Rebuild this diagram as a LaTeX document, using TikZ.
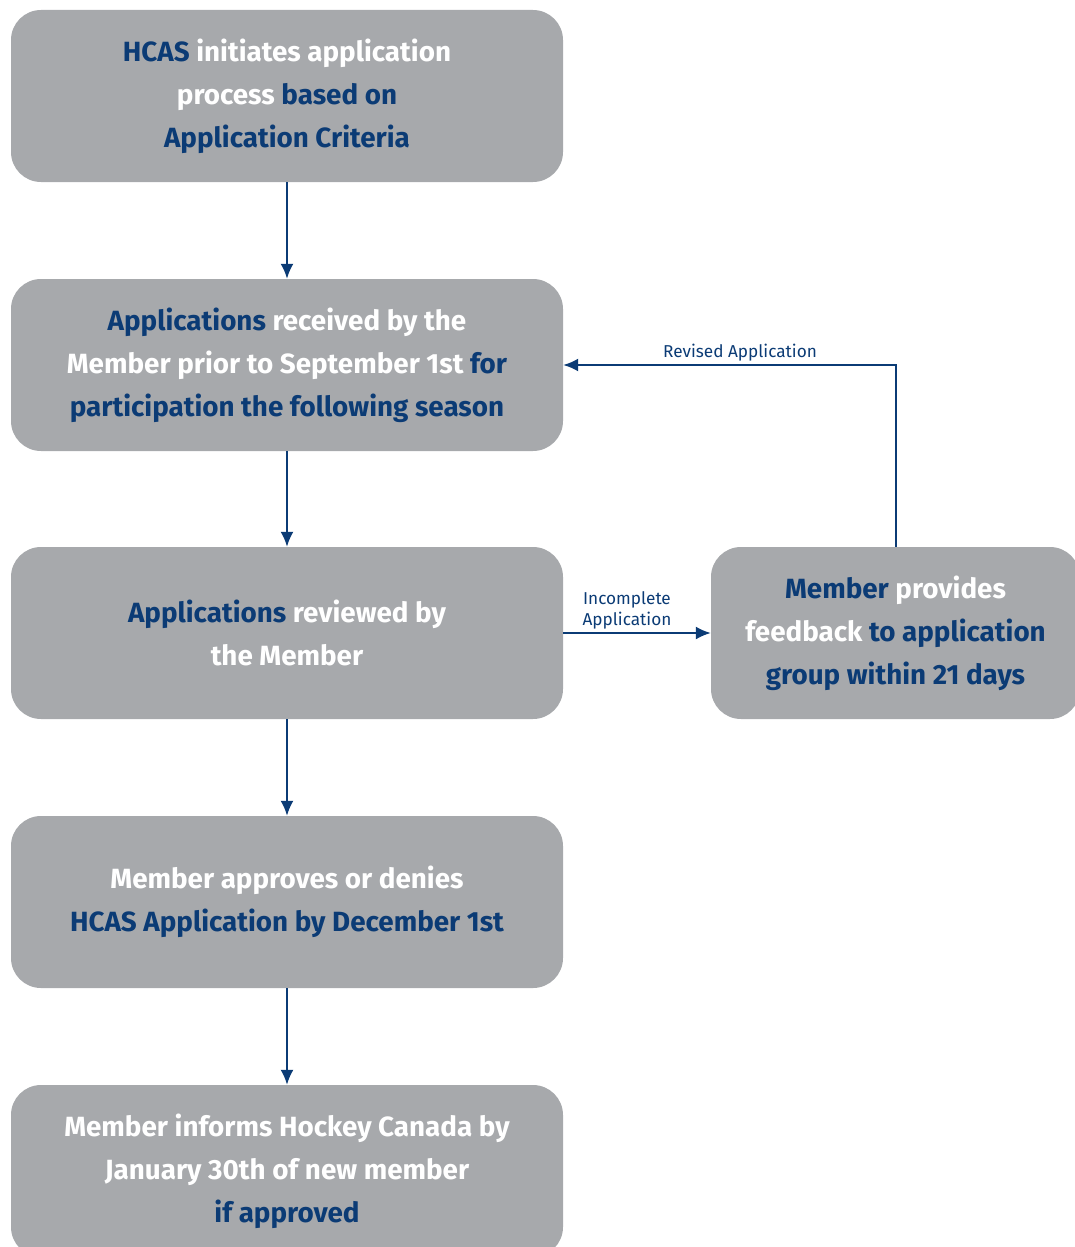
\documentclass[tikz,border=0pt]{standalone}
\usepackage{fontspec}
\setmainfont{Fira Sans}
\usetikzlibrary{arrows.meta}
\definecolor{boxgrey}{HTML}{A7A9AC}
\definecolor{hcblue}{HTML}{0B3B75}
\newcommand{\hb}[1]{\textcolor{hcblue}{#1}}
\tikzset{%
    stepbox/.style={rectangle, rounded corners=30pt, fill=boxgrey, draw=none,
        minimum width=552pt, minimum height=172pt, text=white, align=center,
        font=\fontsize{27.8pt}{43pt}\selectfont\bfseries},
    arr/.style={draw=hcblue, line width=2pt, -{Latex[length=15pt,width=13pt]}},
    lab/.style={text=hcblue, align=center, font=\fontsize{17.2pt}{21pt}\selectfont, inner sep=3pt},
}
\begin{document}
\begin{tikzpicture}[x=1pt,y=-1pt]
    \useasboundingbox (0,0) rectangle (1075,1247);
    \node[stepbox] (init) at (287,96) {\hb{HCAS} initiates application\\process \hb{based on}\\\hb{Application Criteria}};
    \node[stepbox] (recv) at (287,365) {\hb{Applications} received by the\\Member prior to September 1st \hb{for}\\\hb{participation the following season}};
    \node[stepbox] (review) at (287,633) {\hb{Applications} reviewed by\\the Member};
    \node[stepbox] (decide) at (287,902) {Member approves or denies\\\hb{HCAS Application by December 1st}};
    \node[stepbox] (inform) at (287,1171) {Member informs Hockey Canada by\\January 30th of new member\\\hb{if approved}};
    \node[stepbox, minimum width=369pt] (feedback) at (895.5,633) {\hb{Member} provides\\feedback \hb{to application}\\\hb{group within 21 days}};
    % main flow
    \draw[arr] (init) -- (recv);
    \draw[arr] (recv) -- (review);
    \draw[arr] (review) -- (decide);
    \draw[arr] (decide) -- (inform);
    % loop back
    \draw[arr] (review) -- (feedback) node[lab, midway, above, xshift=-10pt]{Incomplete\\Application};
    \draw[arr] (feedback.north) |- (recv.east) node[lab, pos=0.734, above]{Revised Application};
\end{tikzpicture}
\end{document}
